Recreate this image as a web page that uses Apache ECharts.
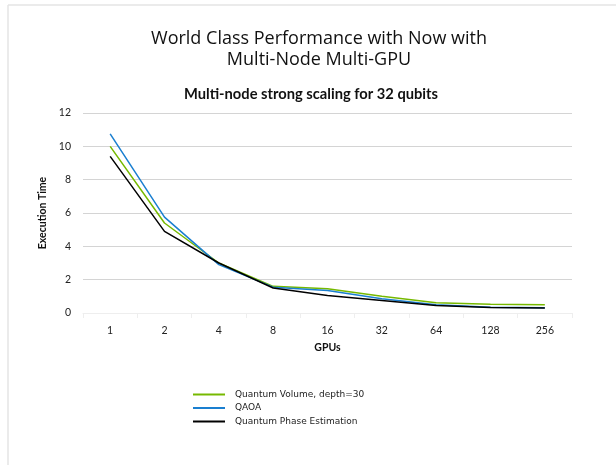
<!DOCTYPE html>
<html>
<head>
<meta charset="utf-8">
<script src="https://cdn.jsdelivr.net/npm/echarts@6/dist/echarts.min.js"></script>
<style>
  html, body { margin: 0; padding: 0; background: #ffffff; }
  #chart { width: 616px; height: 465px; }
</style>
</head>
<body>
<div id="chart"></div>
<script>
// GPU counts on the category axis
const gpuCounts = ['1', '2', '4', '8', '16', '32', '64', '128', '256'];

// Execution time per GPU count for each workload
const quantumVolume = [10.0, 5.4, 3.0, 1.6, 1.45, 1.0, 0.62, 0.52, 0.5];
const qaoa = [10.75, 5.75, 2.9, 1.55, 1.35, 0.85, 0.5, 0.35, 0.32];
const phaseEstimation = [9.4, 4.9, 3.0, 1.5, 1.05, 0.75, 0.45, 0.33, 0.3];

const seriesNames = ['Quantum Volume, depth=30', 'QAOA', 'Quantum Phase Estimation'];
const seriesColors = ['#76b900', '#1a7fd0', '#000000'];

const chart = echarts.init(document.getElementById('chart'), null, { renderer: 'canvas' });

function lineSeries(name, data, color) {
  return {
    name: name,
    type: 'line',
    data: data,
    symbol: 'none',
    lineStyle: { color: color, width: 1.5 },
    itemStyle: { color: color },
    z: 3
  };
}

chart.setOption({
  backgroundColor: '#ffffff',
  animation: false,
  title: [
    {
      text: 'World Class Performance with Now with\nMulti-Node Multi-GPU',
      left: 314,
      textAlign: 'center',
      top: 23,
      textStyle: {
        fontFamily: 'Open Sans',
        fontSize: 18,
        fontWeight: 'normal',
        color: '#111111',
        lineHeight: 21
      }
    },
    {
      text: 'Multi-node strong scaling for 32 qubits',
      left: 306,
      textAlign: 'center',
      top: 82,
      textStyle: {
        fontFamily: 'Lato',
        fontSize: 14.7,
        fontWeight: 'bold',
        color: '#111111'
      }
    }
  ],
  grid: { left: 83, right: 44, top: 113, height: 200, containLabel: false },
  legend: {
    orient: 'vertical',
    left: 188,
    top: 384,
    itemWidth: 32,
    itemHeight: 2,
    itemGap: 2.5,
    icon: 'rect',
    textStyle: { fontFamily: 'DejaVu Sans', fontSize: 9, lineHeight: 11, color: '#222222', padding: [0, 0, 0, 5] },
    data: seriesNames
  },
  xAxis: {
    type: 'category',
    data: gpuCounts,
    boundaryGap: true,
    name: 'GPUs',
    nameLocation: 'middle',
    nameGap: 29,
    nameTextStyle: { fontFamily: 'Lato', fontSize: 10.5, fontWeight: 'bold', color: '#111111' },
    axisLine: { show: true, lineStyle: { color: '#eeeeee', width: 1 } },
    axisTick: { show: true, inside: false, length: 5, lineStyle: { color: '#eeeeee' } },
    axisLabel: { fontFamily: 'Lato', fontSize: 10.5, color: '#222222', margin: 12 }
  },
  yAxis: {
    type: 'value',
    min: 0,
    max: 12,
    interval: 2,
    name: 'Execution Time',
    nameLocation: 'middle',
    nameGap: 30,
    nameTextStyle: { fontFamily: 'Lato', fontSize: 10.5, fontWeight: 'bold', color: '#111111' },
    axisLine: { show: false },
    axisTick: { show: false },
    axisLabel: { fontFamily: 'Lato', fontSize: 10.5, color: '#222222', margin: 12 },
    splitLine: { lineStyle: { color: '#d4d4d4', width: 1 } }
  },
  graphic: [
    { type: 'line', shape: { x1: 8, y1: 5, x2: 616, y2: 5 }, style: { stroke: '#e4e4e4', lineWidth: 1.5 }, silent: true },
    { type: 'line', shape: { x1: 8, y1: 5, x2: 8, y2: 465 }, style: { stroke: '#e4e4e4', lineWidth: 1.5 }, silent: true }
  ],
  series: [
    lineSeries(seriesNames[0], quantumVolume, seriesColors[0]),
    lineSeries(seriesNames[1], qaoa, seriesColors[1]),
    lineSeries(seriesNames[2], phaseEstimation, seriesColors[2])
  ]
});
</script>
</body>
</html>
